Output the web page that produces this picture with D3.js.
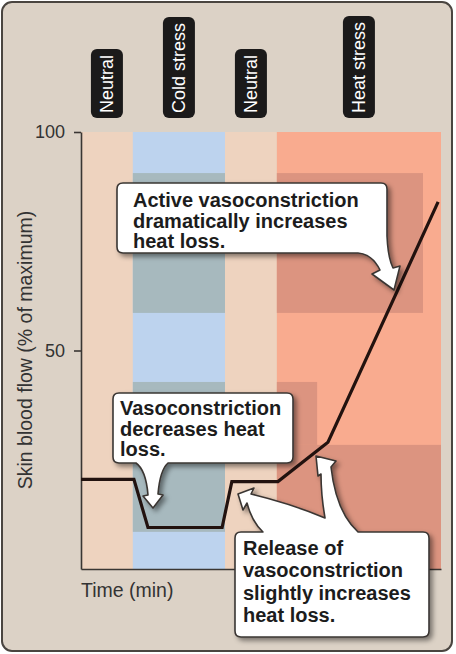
<!DOCTYPE html>
<html><head><meta charset="utf-8">
<script src="https://cdn.jsdelivr.net/npm/d3@7/dist/d3.min.js"></script>
<style>html,body{margin:0;padding:0;background:#fff;}svg{display:block;}</style>
</head><body>
<script>
// ---- data ----
const timePts = [0, 14.7, 18.6, 39.2, 41.9, 54.7, 68.6, 99.2];
const flowVals = [20.5, 20.5, 9.5, 9.5, 20, 20, 29, 84];
const phaseLabels = ["Neutral", "Cold stress", "Neutral", "Heat stress"];
const phaseStart = [0, 14.4, 40, 54.4];
const phaseEnd = [14.4, 40, 54.4, 100];
const phaseKind = ["neutral", "cold", "neutral", "heat"];
const yTicks = [50, 100];
const yTickLabels = ["50", "100"];
// highlighted zones (time range, flow range)
const zoneT0 = [14.4, 54.4, 14.4, 54.4, 54.4];
const zoneT1 = [40, 95, 40, 65.6, 100];
const zoneLo = [58.6, 58.6, 8.5, 28.4, 0];
const zoneHi = [90.6, 90.6, 42.8, 42.8, 28.4];
const zoneKind = ["cold", "heat", "cold", "heat", "heat"];
const callout1 = ["Active vasoconstriction", "dramatically increases", "heat loss."];
const callout2 = ["Vasoconstriction", "decreases heat", "loss."];
const callout3 = ["Release of", "vasoconstriction", "slightly increases", "heat loss."];

// ---- layout ----
const W = 456, H = 654;
const fill = {neutral: "#eed3bf", cold: "#bdd3ee", heat: "#f9ab8f"};
const zoneFill = {cold: "#a7b9be", heat: "#dc9480"};
const svg = d3.select("body").append("svg").attr("width", W).attr("height", H);
const defs = svg.append("defs");
const f = defs.append("filter").attr("id", "sh").attr("x", "-20%").attr("y", "-20%").attr("width", "150%").attr("height", "150%");
f.append("feDropShadow").attr("dx", 3).attr("dy", 3).attr("stdDeviation", 2.5).attr("flood-color", "#000").attr("flood-opacity", 0.45);

svg.append("rect").attr("x", 2).attr("y", 2).attr("width", 450).attr("height", 649)
  .attr("rx", 10).attr("fill", "#dcd2c6").attr("stroke", "#4a4540").attr("stroke-width", 2);

const x = d3.scaleLinear().domain([0, 100]).range([81, 441]);
const y = d3.scaleLinear().domain([0, 100]).range([569, 132]);

// bands
svg.append("g").selectAll("rect").data(phaseStart).join("rect")
  .attr("x", (d) => x(d)).attr("width", (d, i) => x(phaseEnd[i]) - x(d))
  .attr("y", y(100)).attr("height", y(0) - y(100))
  .attr("fill", (d, i) => fill[phaseKind[i]]);
// zones
svg.append("g").selectAll("rect").data(zoneT0).join("rect")
  .attr("x", (d) => x(d)).attr("width", (d, i) => x(zoneT1[i]) - x(d))
  .attr("y", (d, i) => y(zoneHi[i])).attr("height", (d, i) => y(zoneLo[i]) - y(zoneHi[i]))
  .attr("fill", (d, i) => zoneFill[zoneKind[i]]);

// axes
const ya = svg.append("g").attr("transform", `translate(${x(0)},0)`)
  .call(d3.axisLeft(y).tickValues(yTicks).tickFormat((d, i) => yTickLabels[i]).tickSize(7).tickSizeOuter(0).tickPadding(9));
ya.selectAll("path,line").attr("stroke", "#3a3633").attr("stroke-width", 1.6);
ya.selectAll("text").attr("font-family", "Liberation Sans, Arial, sans-serif").attr("font-size", 18).attr("fill", "#333");
const xa = svg.append("g").attr("transform", `translate(0,${y(0)})`)
  .call(d3.axisBottom(x).tickValues([]).tickSizeOuter(0));
xa.selectAll("path").attr("stroke", "#3a3633").attr("stroke-width", 1.6);

svg.append("text").attr("x", x(0)).attr("y", 597).text("Time (min)")
  .attr("font-family", "Liberation Sans, Arial, sans-serif").attr("font-size", 19.5).attr("fill", "#333");
svg.append("text").attr("transform", "translate(32,350) rotate(-90)").attr("text-anchor", "middle")
  .text("Skin blood flow (% of maximum)")
  .attr("font-family", "Liberation Sans, Arial, sans-serif").attr("font-size", 19.5).attr("fill", "#333");

// line
const line = d3.line().x((d) => x(d)).y((d, i) => y(flowVals[i]));
svg.append("path").datum(timePts).attr("d", line).attr("fill", "none")
  .attr("stroke", "#22120f").attr("stroke-width", 3.2).attr("stroke-linejoin", "miter");

// header labels
phaseLabels.forEach((lab, i) => {
  const cx = x((phaseStart[i] + phaseEnd[i]) / 2);
  const g = svg.append("g");
  const r = g.append("rect");
  const t = g.append("text").text(lab)
    .attr("font-family", "Liberation Sans, Arial, sans-serif").attr("font-size", 18).attr("fill", "#fff")
    .attr("text-anchor", "start").attr("transform", `translate(${cx + 6.5},113) rotate(-90)`);
  const len = t.node().getComputedTextLength();
  r.attr("x", cx - 16).attr("width", 32).attr("y", 113 - len - 6).attr("height", len + 11)
    .attr("rx", 6).attr("fill", "#1b1a1a");
});

// callouts
const cg = svg.append("g");
const p1 = "M123,183 H381 Q387,183 387,189 V236 Q388,258 393,268 L400,266 L394,290 L372,274 L380,270 Q372,254 358,253 H123 Q117,253 117,247 V189 Q117,183 123,183 Z";
const p2 = "M119,393 H287 Q293,393 293,399 V457 Q293,463 287,463 H168 Q160,470 158,494 L163,495 L153,508 L143,496 L148,495 Q146,470 136,463 H119 Q113,463 113,457 V399 Q113,393 119,393 Z";
const p3 = "M241,532 H263 Q252,522 247,503 L243,510 L238,494 L254,488 L251,494 Q292,504 325,518 Q321,495 321,474 L318,476 L316,456 L336,461 L331,467 Q336,512 358,532 H423 Q429,532 429,538 V631 Q429,637 423,637 H241 Q235,637 235,631 V538 Q235,532 241,532 Z";
[p1, p2, p3].forEach((p) => {
  cg.append("path").attr("d", p).attr("fill", "#fff").attr("stroke", "#3a3633")
    .attr("stroke-width", 1.6).attr("stroke-linejoin", "round").attr("filter", "url(#sh)");
});
function addText(lines, tx, ty, lh) {
  lines.forEach((l, i) => cg.append("text").attr("font-family", "Liberation Sans, Arial, sans-serif")
    .attr("font-weight", "bold").attr("font-size", 20).attr("fill", "#1c1c1c")
    .attr("x", tx).attr("y", ty + i * lh).text(l));
}
addText(callout1, 133, 207, 20.5);
addText(callout2, 120, 415, 20.5);
addText(callout3, 243, 555, 22.3);
</script>
</body></html>
